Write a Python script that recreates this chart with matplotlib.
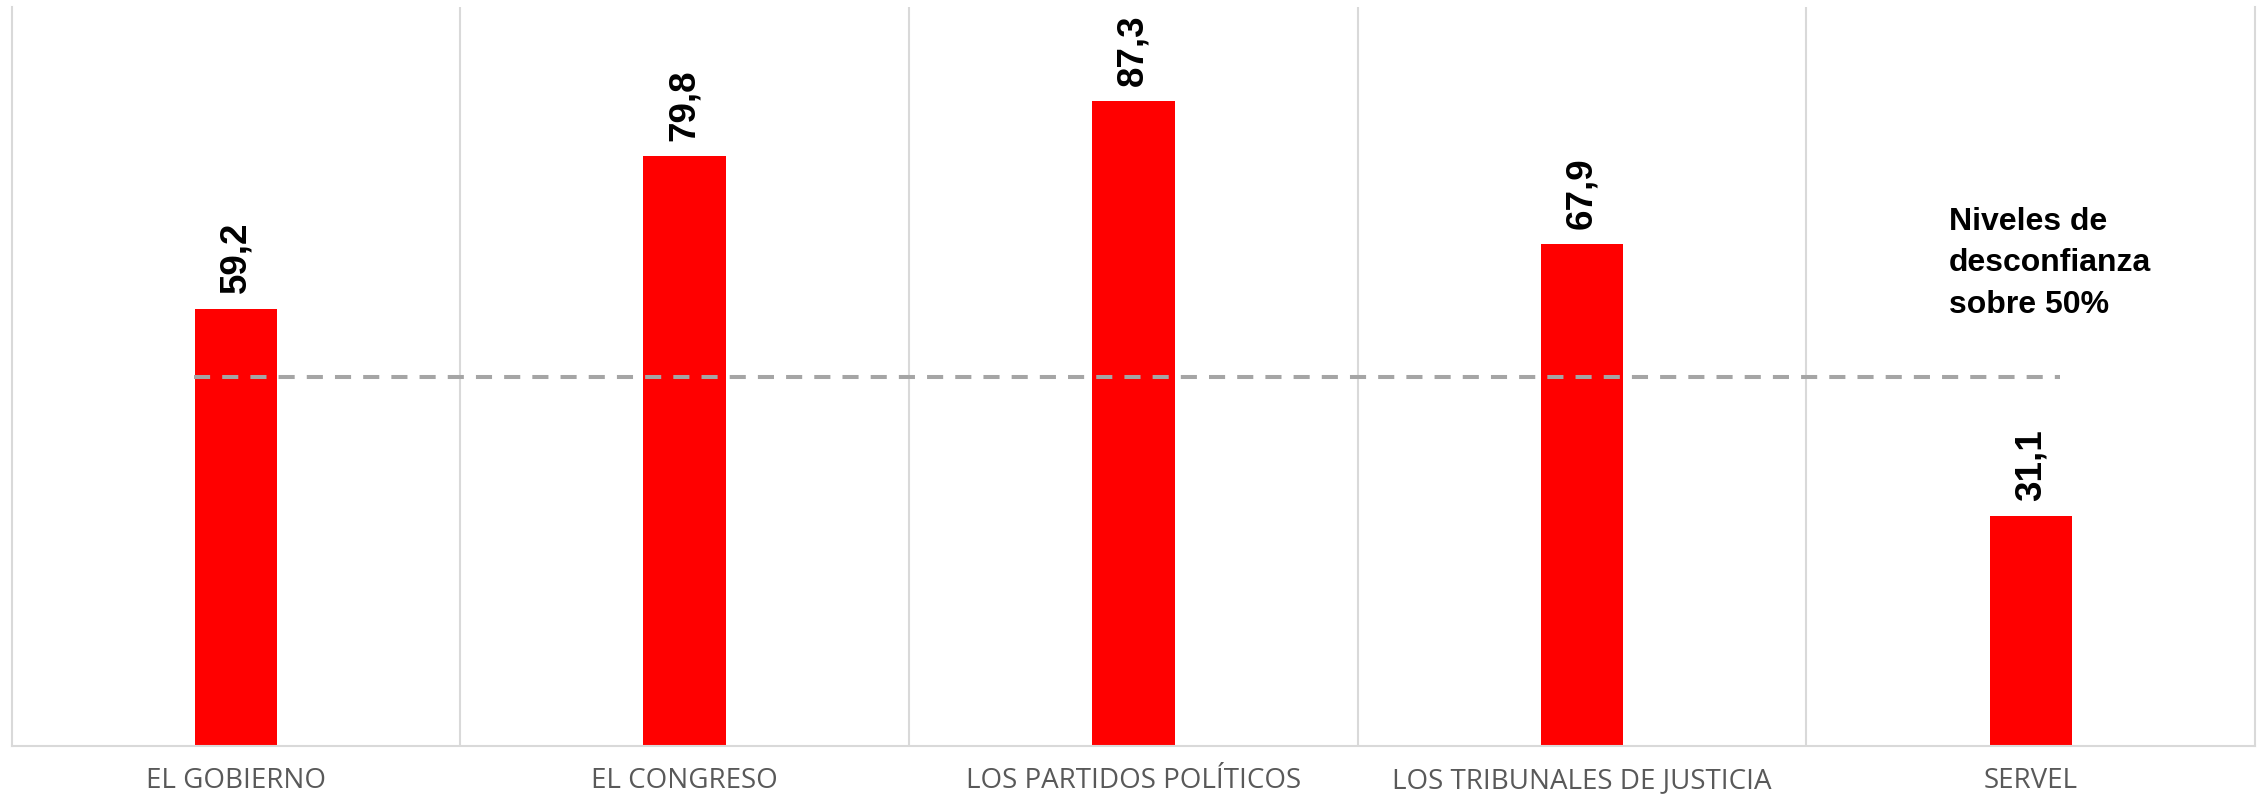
import matplotlib.pyplot as plt
import numpy as np

categories = ['EL GOBIERNO', 'EL CONGRESO', 'LOS PARTIDOS POLÍTICOS',
              'LOS TRIBUNALES DE JUSTICIA', 'SERVEL']
values = [59.2, 79.8, 87.3, 67.9, 31.1]
threshold = 50
note = 'Niveles de\ndesconfianza\nsobre 50%'

fig = plt.figure(figsize=(22.57, 7.96), dpi=100)
ax = fig.add_axes([0.0051, 0.0628, 0.9941, 0.9284])

x = np.arange(len(categories))
ax.bar(x, values, width=0.184, color='#FF0000', zorder=2)

# dashed reference line at 50%
ax.plot([-0.093, 4.064], [threshold, threshold], color='#A5A5A5',
        lw=2.9, dashes=(4, 3), zorder=3)

for xi, v in zip(x, values):
    ax.annotate(f'{v:.1f}'.replace('.', ','), (xi, v), xytext=(0, 11),
                textcoords='offset points', rotation=90, ha='center', va='bottom',
                fontsize=26.5, fontweight='bold', family='Liberation Sans')

# va='baseline' anchors the last line here
ax.text(3.817, 58.6, note, fontsize=23, fontweight='bold', va='baseline', ha='left',
        linespacing=1.5, family='Liberation Sans')

# category labels below the axis
for xi, c in zip(x, categories):
    ax.annotate(c, (xi, 0), xycoords=('data', 'axes fraction'), xytext=(0, -30),
                textcoords='offset points', ha='center', va='baseline',
                fontsize=20, color='#595959', family='Open Sans')

ax.set_xlim(-0.5, 4.5)
ax.set_ylim(0, 100)
ax.set_yticks([])
ax.set_xticks([])

for b in np.arange(0.5, 4.5, 1):
    ax.axvline(b, color='#D9D9D9', lw=1.5, zorder=1)
ax.spines['top'].set_visible(False)
for s in ['left', 'right', 'bottom']:
    ax.spines[s].set_color('#D9D9D9')
    ax.spines[s].set_linewidth(1.5)

fig.savefig('out.png', dpi=100, facecolor='white')
